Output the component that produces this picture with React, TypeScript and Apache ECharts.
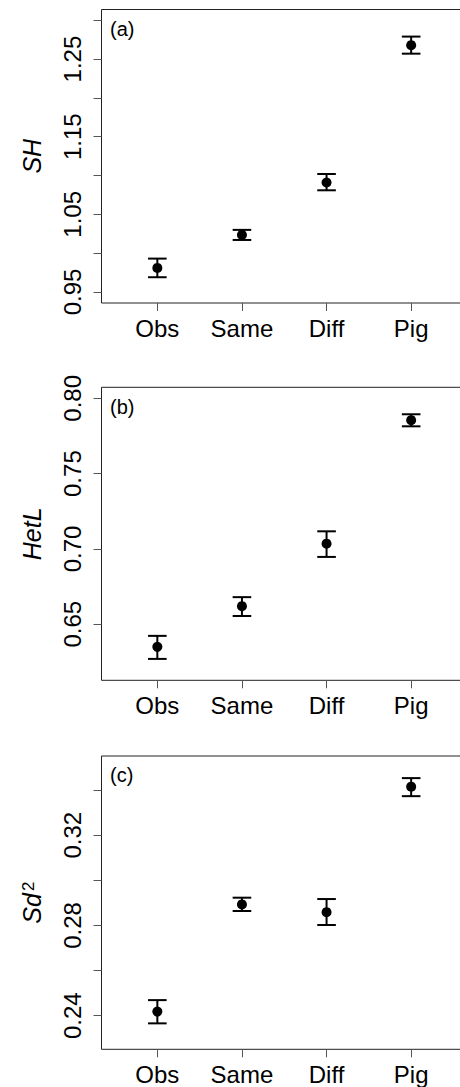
import React, { useEffect, useRef } from "react";
import * as echarts from "echarts";

const categories = ["Obs", "Same", "Diff", "Pig"];

const shMean = [0.981, 1.0235, 1.091, 1.268];
const shLow = [0.969, 1.017, 1.081, 1.257];
const shHigh = [0.993, 1.03, 1.102, 1.279];

const hetMean = [0.635, 0.662, 0.7035, 0.7855];
const hetLow = [0.627, 0.6555, 0.6947, 0.7814];
const hetHigh = [0.6423, 0.668, 0.7117, 0.7894];

const sdMean = [0.2418, 0.2893, 0.2859, 0.3415];
const sdLow = [0.2366, 0.2864, 0.2802, 0.3373];
const sdHigh = [0.2469, 0.2923, 0.2917, 0.3453];

const shTicks = [0.95, 1.0, 1.05, 1.1, 1.15, 1.2, 1.25, 1.3];
const shLabels = [0.95, 1.05, 1.15, 1.25];
const hetTicks = [0.65, 0.7, 0.75, 0.8];
const hetLabels = [0.65, 0.7, 0.75, 0.8];
const sdTicks = [0.24, 0.26, 0.28, 0.3, 0.32, 0.34];
const sdLabels = [0.24, 0.28, 0.32];

const xPositions = [1, 2, 3, 4];

const FONT = "'Liberation Sans', Arial, Helvetica, sans-serif";

export default function App() {
  const ref = useRef<HTMLDivElement>(null);

  useEffect(() => {
    if (!ref.current) return;
    const chart = echarts.init(ref.current, undefined, { renderer: "svg" });

    const panels = [
      { top: 9.5, height: 293.5, min: 0.9358, max: 1.3139, ticks: shTicks, labels: shLabels, mean: shMean, low: shLow, high: shHigh, name: "{i|SH}", tag: "(a)", tagY: 19 },
      { top: 387.3, height: 293, min: 0.6128, max: 0.8073, ticks: hetTicks, labels: hetLabels, mean: hetMean, low: hetLow, high: hetHigh, name: "{i|HetL}", tag: "(b)", tagY: 397 },
      { top: 756, height: 293.3, min: 0.2251, max: 0.3551, ticks: sdTicks, labels: sdLabels, mean: sdMean, low: sdLow, high: sdHigh, name: "{i|Sd}{s|2}", tag: "(c)", tagY: 765 },
    ];

    const grid: any[] = [];
    const xAxis: any[] = [];
    const yAxis: any[] = [];
    const series: any[] = [];
    const graphic: any[] = [];

    panels.forEach((p, i) => {
      grid.push({
        left: 101.5,
        top: p.top,
        width: 365.5,
        height: p.height,
        outerBoundsMode: "none",
        containLabel: false,
        show: true,
        borderColor: "#222",
        borderWidth: 1,
        backgroundColor: "transparent",
      });
      xAxis.push({
        type: "value",
        gridIndex: i,
        min: 0.34,
        max: 4.66,
        axisLine: { show: false },
        splitLine: { show: false },
        axisTick: { show: true, length: 8, customValues: xPositions, lineStyle: { color: "#555", width: 1 } },
        axisLabel: {
          customValues: xPositions,
          margin: 13,
          fontSize: 24,
          lineHeight: 24,
          color: "#000",
          fontFamily: FONT,
          formatter: (v: number) => categories[Math.round(v) - 1] ?? "",
        },
      });
      yAxis.push({
        type: "value",
        gridIndex: i,
        min: p.min,
        max: p.max,
        axisLine: { show: false },
        splitLine: { show: false },
        axisTick: { show: true, length: 8, customValues: p.ticks, lineStyle: { color: "#555", width: 1 } },
        axisLabel: {
          customValues: p.labels,
          rotate: 90,
          margin: 17,
          fontSize: 24,
          color: "#000",
          fontFamily: FONT,
          formatter: (v: number) => v.toFixed(2),
        },
        name: p.name,
        nameLocation: "middle",
        nameRotate: 90,
        nameGap: 57,
        nameTextStyle: {
          color: "#000",
          fontFamily: FONT,
          rich: {
            i: { fontSize: 25, fontStyle: "italic", fontFamily: FONT, color: "#000" },
            s: { fontSize: 17, fontFamily: FONT, color: "#000", verticalAlign: "top", padding: [0, 0, 0, 2] },
          },
        },
      });
      series.push({
        type: "custom",
        xAxisIndex: i,
        yAxisIndex: i,
        data: xPositions.map((x, k) => [x, p.low[k], p.high[k]]),
        renderItem: (params: any, api: any) => {
          const x = api.value(0);
          const lo = api.coord([x, api.value(1)]);
          const hi = api.coord([x, api.value(2)]);
          const hw = 9.3;
          const style = { stroke: "#000", lineWidth: 2 };
          return {
            type: "group",
            children: [
              { type: "line", shape: { x1: lo[0], y1: lo[1], x2: hi[0], y2: hi[1] }, style },
              { type: "line", shape: { x1: lo[0] - hw, y1: lo[1], x2: lo[0] + hw, y2: lo[1] }, style },
              { type: "line", shape: { x1: hi[0] - hw, y1: hi[1], x2: hi[0] + hw, y2: hi[1] }, style },
            ],
          };
        },
        z: 2,
      });
      series.push({
        type: "scatter",
        xAxisIndex: i,
        yAxisIndex: i,
        symbol: "circle",
        symbolSize: 10,
        itemStyle: { color: "#000", opacity: 1 },
        data: xPositions.map((x, k) => [x, p.mean[k]]),
        z: 3,
      });
      graphic.push({
        type: "text",
        left: 110,
        top: p.tagY,
        style: { text: p.tag, fontSize: 20, fontFamily: FONT, fill: "#000" },
      });
    });

    chart.setOption({
      animation: false,
      backgroundColor: "#fff",
      grid,
      xAxis,
      yAxis,
      series,
      graphic,
    });

    return () => chart.dispose();
  }, []);

  return (
    <div
      ref={ref}
      style={{ position: "absolute", left: 0, top: 0, width: 460, height: 1087 }}
    />
  );
}
